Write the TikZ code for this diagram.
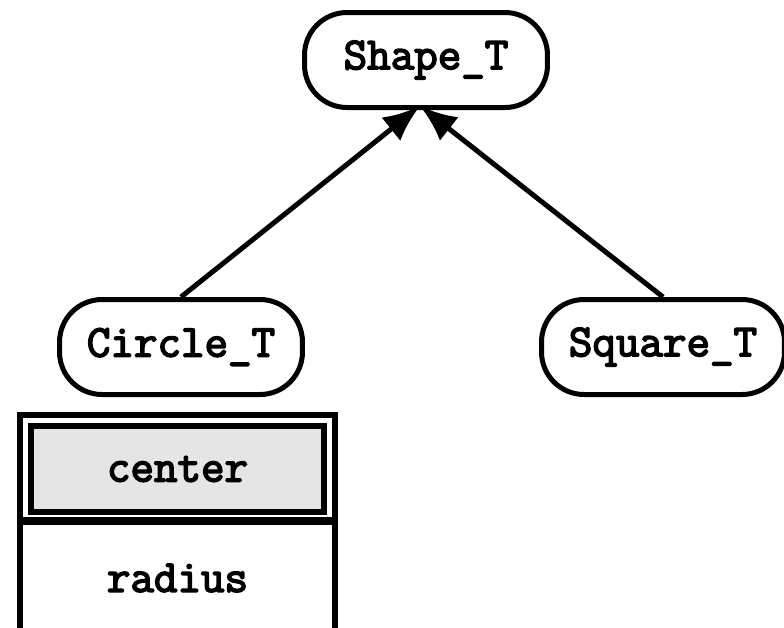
\documentclass[tikz,border=0pt]{standalone}
\usepackage{fontspec}
\setmonofont{Latin Modern Mono}[AutoFakeBold=3.5]
\usetikzlibrary{arrows.meta, positioning}

\begin{document}
\begin{tikzpicture}[x=0.02cm, y=-0.02cm,
    typebox/.style={rectangle, draw=black, line width=0.1cm, rounded corners=0.85cm, minimum width=4.86cm, minimum height=1.9cm, font=\fontsize{26}{30}\selectfont\ttfamily\bfseries},
    cell/.style={rectangle, minimum width=5.88cm, minimum height=1.73cm, font=\fontsize{26}{30}\selectfont\ttfamily\bfseries},
    frame/.style={draw=black, line width=0.12cm},
    line/.style={draw, line width=0.1cm, -{Latex[length=0.74cm, width=0.6cm]}}]
    \useasboundingbox (0,0) rectangle (784,627);
    \node [typebox] (shape) at (426,60) {Shape\_T};
    \node [typebox] (circ) at (181,347) {Circle\_T};
    \node [typebox] (square) at (663,347) {Square\_T};
    % table of Circle_T members
    \node [cell, draw=black, line width=0.12cm, fill=black!10] (center) at (177.5,469) {center};
    \node [cell] (radius) at (177.5,578) {radius};
    \coordinate (tl) at (20,415);
    \coordinate (tr) at (335,415);
    \path [frame, line cap=rect] (20,627) -- (tl) -- (tr) -- (335,627);
    \path [frame, line width=0.15cm] (20,521) -- (335,521);
    \path [line] (circ.north) -- ([xshift=-0.12cm, yshift=0.08cm]shape.south);
    \path [line] (square.north) -- ([xshift=-0.12cm, yshift=0.08cm]shape.south);
\end{tikzpicture}
\end{document}
